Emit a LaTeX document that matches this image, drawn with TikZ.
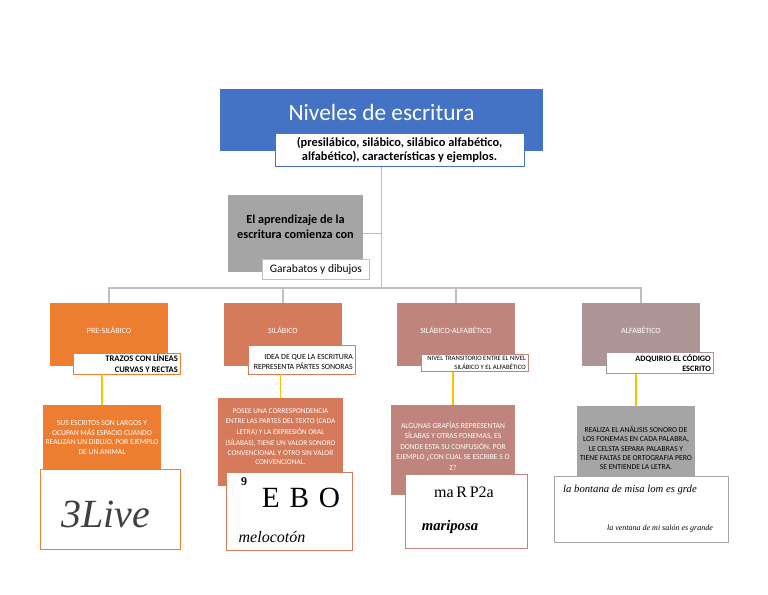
\documentclass[tikz,border=0pt]{standalone}
\usepackage{fontspec}
\setmainfont{Carlito}
\newfontfamily\handfont{Liberation Serif}
\usetikzlibrary{positioning,calc}
\definecolor{titleblue}{RGB}{68,114,196}
\definecolor{boxgray}{RGB}{165,165,165}
\definecolor{linegray}{RGB}{191,191,191}
\definecolor{presil}{RGB}{237,125,49}
\definecolor{silab}{RGB}{213,122,90}
\definecolor{silalf}{RGB}{191,132,124}
\definecolor{alfab}{RGB}{173,149,149}
\definecolor{stemyellow}{RGB}{255,192,0}
\begin{document}
\begin{tikzpicture}[x=0.75pt,y=-0.75pt,
 lvl/.style={minimum width=88.5pt,minimum height=47pt,inner sep=1pt,align=center,text=white,font=\fontsize{6}{7}\selectfont},
 tag/.style={draw=#1,fill=white,text width=77pt,inner sep=1.5pt,align=flush right,font=\fontsize{5}{6.4}\selectfont},
 desc/.style={fill=#1,inner sep=1pt,align=center,text=white,font=\fontsize{5.7}{7.4}\selectfont},
 sample/.style={draw=#1,fill=white,line width=0.6pt},
 hand/.style={font=\handfont\itshape\fontsize{#1}{#1}\selectfont},
 conn/.style={draw=linegray,line width=0.8pt},
 stem/.style={draw=stemyellow,line width=0.9pt}]
\useasboundingbox (0,0) rectangle (768,594);
% top of the map
\node[fill=titleblue,minimum width=242pt,minimum height=46.5pt,text=white,font=\fontsize{17.5}{19}\selectfont] (title) at (381.5,120) {\raisebox{6pt}[\height][\depth]{Niveles de escritura}};
\node[fill=boxgray,minimum width=101pt,minimum height=58pt,align=center,font=\bfseries\fontsize{9.2}{11.3}\selectfont] (aprend) at (295.5,233.5) {\raisebox{5pt}[\height][\depth]{\shortstack{El aprendizaje de la\\escritura comienza con}}};
\coordinate (bus) at (381.5,288);
\node[lvl,fill=presil] (pre) at (109,334.5) {\raisebox{3pt}[\height][\depth]{PRE-SILÁBICO}};
\node[lvl,fill=silab] (sil) at (283,334.5) {\raisebox{3pt}[\height][\depth]{SILÁBICO}};
\node[lvl,fill=silalf] (sila) at (456,334.5) {\raisebox{3pt}[\height][\depth]{SILÁBICO-ALFABÉTICO}};
\node[lvl,fill=alfab] (alf) at (641,334.5) {\raisebox{3pt}[\height][\depth]{ALFABÉTICO}};
\draw[conn] (title.south) -- (bus);
\draw[conn] (aprend.east) -- (aprend.east -| bus);
\foreach \n in {pre,sil,sila,alf} \draw[conn] (\n.north) |- (bus);
\node[draw=titleblue,fill=white,minimum width=187pt,minimum height=25pt,inner sep=1pt,align=center,font=\bfseries\fontsize{9.3}{10.5}\selectfont] (sub) at (399.5,149.5) {(presilábico, silábico, silábico alfabético,\\alfabético), características y ejemplos.};
\node[draw=linegray,fill=white,minimum width=80pt,minimum height=15pt,inner sep=1pt,font=\fontsize{8.6}{9}\selectfont] (garab) at (316,269) {Garabatos y dibujos};
% level tags
\node[tag=presil,font=\bfseries\fontsize{6.4}{7.6}\selectfont] (pretag) at (126.5,363.5) {TRAZOS CON LÍNEAS\\CURVAS Y RECTAS};
\node[tag=silab,minimum height=22pt,font=\fontsize{5.9}{7.2}\selectfont] (siltag) at (301.5,359.5) {\raisebox{-2pt}[\height][\depth]{IDEA DE QUE LA ESCRITURA}\\\raisebox{-2pt}[\height][\depth]{REPRESENTA PÁRTES SONORAS}};
\node[tag=silalf] (silatag) at (474.5,363) {NIVEL TRANSITORIO ENTRE EL NIVEL\\SILÁBICO Y EL ALFABÉTICO};
\node[tag=alfab,font=\bfseries\fontsize{6.2}{7.6}\selectfont] (alftag) at (659.5,363) {ADQUIRIO EL CÓDIGO\\ESCRITO};
% descriptions
\node[desc=presil,minimum width=88.5pt,minimum height=49pt] (predesc) at (102,437.5) {SUS ESCRITOS SON LARGOS Y\\OCUPAN MÁS ESPACIO CUANDO\\REALIZAN UN DIBUJO, POR EJEMPLO\\DE UN ANIMAL};
\node[desc=silab,minimum width=94pt,minimum height=66pt,font=\fontsize{5.5}{7.4}\selectfont] (sildesc) at (280.5,442) {\raisebox{4pt}[\height][\depth]{\shortstack{POSEE UNA CORRESPONDENCIA\\ENTRE LAS PARTES DEL TEXTO (CADA\\LETRA) Y LA EXPRESIÓN ORAL\\(SÍLABAS), TIENE UN VALOR SONORO\\CONVENCIONAL Y OTRO SIN VALOR\\CONVENCIONAL.}}};
\node[desc=silalf,minimum width=93pt,minimum height=67.5pt] (siladesc) at (453,450) {\raisebox{3pt}[\height][\depth]{\shortstack{ALGUNAS GRAFÍAS REPRESENTAN\\SÍLABAS Y OTRAS FONEMAS, ES\\DONDE ESTA SU CONFUSIÓN, POR\\EJEMPLO ¿CON CUAL SE ESCRIBE S O\\Z?}}};
\node[desc=boxgray,text=black,minimum width=88pt,minimum height=52.5pt] (alfdesc) at (636,441) {\raisebox{-5pt}[\height][\depth]{\shortstack{REALIZA EL ANÁLISIS SONORO DE\\LOS FONEMAS EN CADA PALABRA,\\LE CELSTA SEPARA PALABRAS Y\\TIENE FALTAS DE ORTOGRAFIA PERO\\SE ENTIENDE LA LETRA.}}};
\foreach \n in {pre,sil,sila,alf} \draw[stem] (\n desc.north) -- (\n desc.north |- \n tag.south);
% writing samples
\node[sample=presil,minimum width=105pt,minimum height=60pt] (preimg) at (110,509) {};
\node[sample=silab,minimum width=94.5pt,minimum height=59pt] (silimg) at (289,511.5) {};
\node[sample=silalf,minimum width=91.5pt,minimum height=55pt] (silaimg) at (466,511.5) {};
\node[sample=boxgray,minimum width=130pt,minimum height=49.5pt] (alfimg) at (641.5,509) {};
\node[hand=30,text=black!75] (prew) at (106,514) {3Live};
\node[hand=22,font=\handfont\fontsize{22}{22}\selectfont] (silw) at (301,498) {E\,\,B\,\,O};
\node[hand=9,font=\handfont\bfseries\fontsize{9}{9}\selectfont] (silnum) at (244,482) {9};
\node[hand=12] (silw2) at (272,537) {melocotón};
\node[hand=12,font=\handfont\fontsize{12}{12}\selectfont] (silaw) at (464,492) {ma\,R\,P2a};
\node[hand=11,font=\handfont\bfseries\itshape\fontsize{11}{11}\selectfont] (silaw2) at (450,527) {mariposa};
\node[hand=8] (alfw) at (630,490) {la bontana de misa lom es grde};
\node[hand=6] (alfw2) at (660,529) {la ventana de mi salón es grande};
\end{tikzpicture}
\end{document}
